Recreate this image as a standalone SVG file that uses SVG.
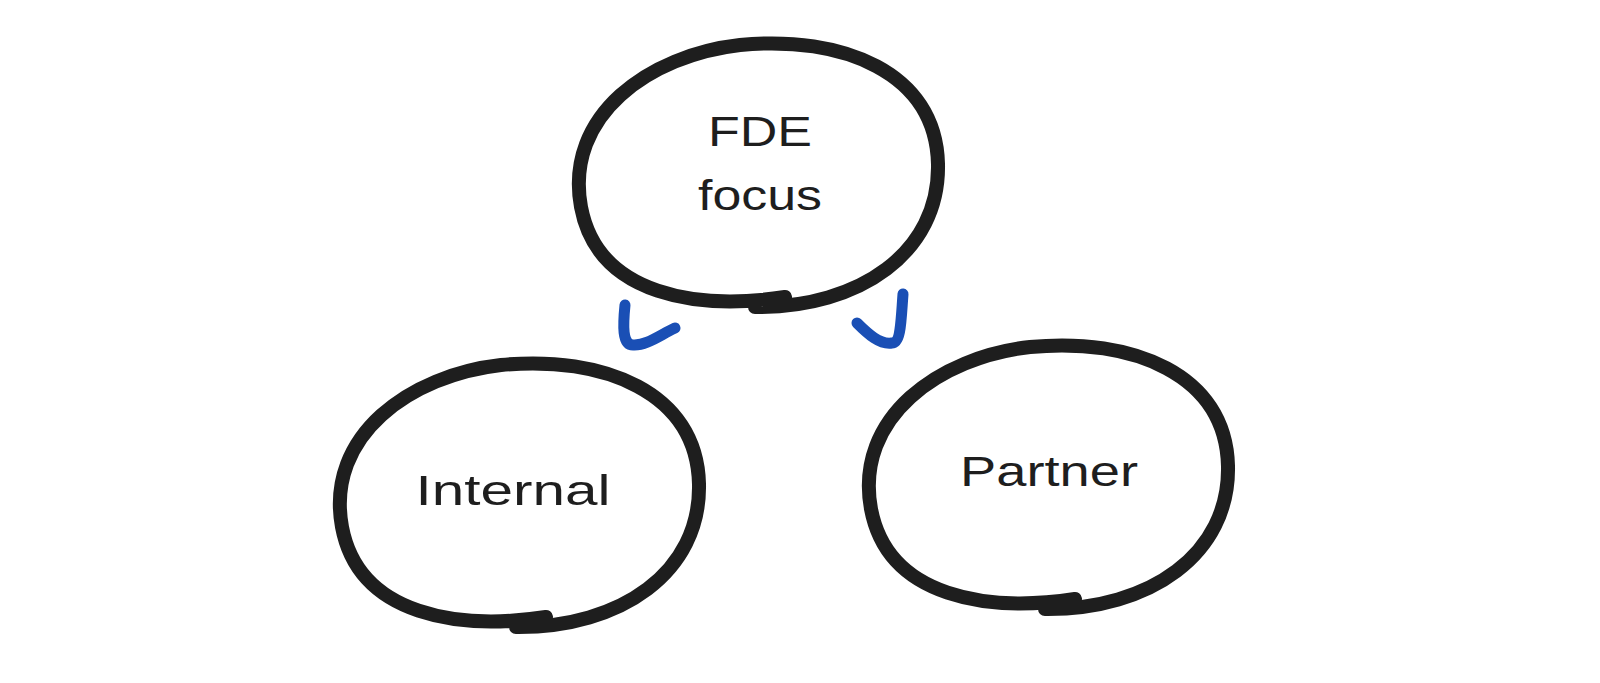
<svg xmlns="http://www.w3.org/2000/svg" width="1600" height="683" viewBox="0 0 1600 683">
<style>
.blob{fill:none;stroke:#1e1e1e;stroke-width:14;stroke-linecap:round;stroke-linejoin:round}
.lbl{font-family:"Liberation Sans",Arial,sans-serif;font-size:42px;fill:#1e1e1e;text-anchor:middle}
.arr{fill:none;stroke:#1a4fb5;stroke-width:11;stroke-linecap:round;stroke-linejoin:round}
</style>
<defs>
<path id="blobShape" d="M 785 297 C 700 310, 598 297, 581 207 C 564 115, 650 55, 740 45 C 842 35, 936 72, 938 164 C 940 252, 860 308, 755 307"/>
</defs>
<rect width="1600" height="683" fill="#ffffff"/>
<g id="node-fde">
<use href="#blobShape" class="blob"/>
<text class="lbl" x="760" y="146" textLength="104" lengthAdjust="spacingAndGlyphs">FDE</text>
<text class="lbl" x="760" y="210" textLength="124" lengthAdjust="spacingAndGlyphs" font-size="46">focus</text>
</g>
<g id="node-internal">
<use href="#blobShape" class="blob" transform="translate(-239,320)"/>
<text class="lbl" x="513" y="505" textLength="195" lengthAdjust="spacingAndGlyphs">Internal</text>
</g>
<g id="node-partner">
<use href="#blobShape" class="blob" transform="translate(290,302)"/>
<text class="lbl" x="1049" y="486" textLength="178" lengthAdjust="spacingAndGlyphs">Partner</text>
</g>
<g id="connectors">
<path class="arr" d="M 625 305 C 623 325, 622 345, 633 345 C 646 346, 660 335, 675 328"/>
<path class="arr" d="M 903 294 C 901 320, 901 343, 892 343 C 880 345, 868 334, 857 323"/>
</g>
</svg>
